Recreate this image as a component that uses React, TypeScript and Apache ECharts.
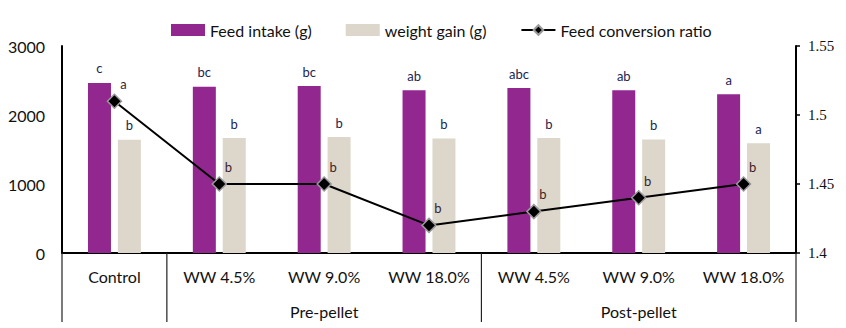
import React, { useEffect, useRef } from "react";
import * as echarts from "echarts";

const categories = ["Control", "WW 4.5%", "WW 9.0%", "WW 18.0%", "WW 4.5%", "WW 9.0%", "WW 18.0%"];
const groupLabels = ["", "", "Pre-pellet", "", "", "Post-pellet", ""];
const feedIntake = [2465, 2410, 2420, 2360, 2390, 2360, 2300];
const weightGain = [1640, 1665, 1680, 1660, 1665, 1645, 1590];
const fcr = [1.51, 1.45, 1.45, 1.42, 1.43, 1.44, 1.45];
const feedLetters = ["c", "bc", "bc", "ab", "abc", "ab", "a"];
const gainLetters = ["b", "b", "b", "b", "b", "b", "a"];
const fcrLetters = ["a", "b", "b", "b", "b", "b", "b"];
const separatorIdx = [0, 1, 4, 7];

const W = 846;
const H = 328;
const GL = 62;
const GR = 50;
const GT = 46;
const GB = 75;
const FONT = "Lato";

export default function App() {
  const ref = useRef<HTMLDivElement>(null);
  useEffect(() => {
    if (!ref.current) return;
    const chart = echarts.init(ref.current, null, { renderer: "svg" });
    const plotW = W - GL - GR;
    const axisY = H - GB;
    const seps = separatorIdx.map((i) => ({
      type: "line",
      shape: { x1: GL + (i * plotW) / categories.length, y1: axisY, x2: GL + (i * plotW) / categories.length, y2: 322 },
      style: { stroke: "#222", lineWidth: 1.2 },
      z: 10,
    }));
    chart.setOption({
      animation: false,
      textStyle: { fontFamily: FONT },
      grid: { left: GL, right: GR, top: GT, bottom: GB },
      legend: {
        left: 166,
        top: 17,
        itemWidth: 34,
        itemHeight: 12,
        itemGap: 34,
        textStyle: { fontSize: 16, color: "#111", fontFamily: FONT },
        data: [
          { name: "Feed intake (g)", icon: "rect" },
          { name: "weight gain (g)", icon: "rect" },
          { name: "Feed conversion ratio" },
        ],
      },
      xAxis: [
        {
          type: "category",
          data: categories,
          axisLine: { lineStyle: { color: "#000", width: 2 } },
          axisTick: { show: false },
          axisLabel: { interval: 0, fontSize: 16, color: "#111", margin: 15, fontFamily: FONT },
        },
        {
          type: "category",
          data: groupLabels,
          position: "bottom",
          offset: 35,
          axisLine: { show: false },
          axisTick: { show: false },
          axisLabel: { interval: 0, fontSize: 16, color: "#111", margin: 15, fontFamily: FONT },
        },
      ],
      yAxis: [
        {
          type: "value",
          min: 0,
          max: 3000,
          interval: 1000,
          axisLine: { show: true, lineStyle: { color: "#000", width: 2 } },
          axisTick: { show: false },
          splitLine: { show: false },
          axisLabel: {
            fontSize: 16,
            color: "#111",
            margin: 17,
            fontFamily: FONT,
            formatter: (v: number) => String(v),
          },
        },
        {
          type: "value",
          min: 1.4,
          max: 1.55,
          interval: 0.05,
          position: "right",
          axisLine: { show: true, lineStyle: { color: "#000", width: 2 } },
          axisTick: { show: true, length: 4, lineStyle: { color: "#000", width: 1.5 } },
          splitLine: { show: false },
          axisLabel: {
            fontSize: 15,
            color: "#111",
            margin: 12,
            fontFamily: "Liberation Serif",
            formatter: (v: number) => String(parseFloat(v.toFixed(2))),
          },
        },
      ],
      series: [
        {
          name: "Feed intake (g)",
          type: "bar",
          data: feedIntake,
          barWidth: 23,
          barGap: "30%",
          itemStyle: { color: "#92278F" },
          label: {
            show: true,
            position: "top",
            distance: 8,
            fontSize: 13,
            color: "#1b2550",
            fontFamily: FONT,
            formatter: (p: any) => feedLetters[p.dataIndex],
          },
        },
        {
          name: "weight gain (g)",
          type: "bar",
          data: weightGain,
          barWidth: 23,
          barGap: "30%",
          itemStyle: { color: "#DDD6CA" },
          label: {
            show: true,
            position: "top",
            distance: 8,
            fontSize: 13,
            color: "#1b2550",
            fontFamily: FONT,
            formatter: (p: any) => gainLetters[p.dataIndex],
          },
        },
        {
          name: "Feed conversion ratio",
          type: "line",
          yAxisIndex: 1,
          data: fcr,
          symbol: "diamond",
          symbolSize: 14,
          lineStyle: { color: "#000", width: 2 },
          itemStyle: { color: "#000", borderColor: "#9a9a9a", borderWidth: 1.5 },
          z: 5,
          label: {
            show: true,
            position: "top",
            distance: 3,
            offset: [9, 0],
            fontSize: 13,
            color: "#3a1f2a",
            fontFamily: FONT,
            formatter: (p: any) => fcrLetters[p.dataIndex],
          },
        },
      ],
      graphic: seps,
    });
    return () => chart.dispose();
  }, []);
  return <div ref={ref} style={{ width: W, height: H, position: "absolute", left: 0, top: 0 }} />;
}
